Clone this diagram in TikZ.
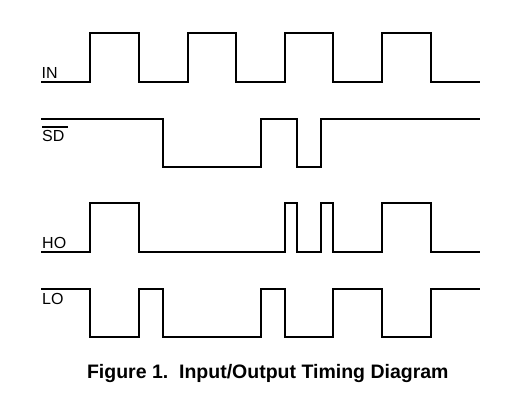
\documentclass[tikz,border=0pt]{standalone}
\usepackage{fontspec}
\setmainfont{Liberation Sans}
\begin{document}
\begin{tikzpicture}[x=1pt,y=-1pt,w/.style={line width=2pt,line join=miter},lbl/.style={inner sep=0pt,anchor=base west,font=\fontsize{16}{19}\selectfont}]
\useasboundingbox (0,0) rectangle (507,403);
% signal names
\node[lbl] (in) at (41.5,78.3) {IN};
\node[lbl] (sd) at (42,141.7) {SD};
\draw[line width=1.8pt] ([yshift=3pt]sd.north west) -- ++(26,0);
\node[lbl] (ho) at (42,248.7) {HO};
\node[lbl] (lo) at (42,304.5) {LO};
% waveforms
\draw[w] (41,81.7) foreach \t in {90,187.5,284.5,381.7} { -- (\t,81.7) -- (\t,33.3) -- (\t+48.8,33.3) -- (\t+48.8,81.7) } -- (480,81.7);
\draw[w] (41,118.7) -| (163.3,166.7) -| (261,118.7) -| (296.7,166.7) -| (320.7,118.7) -- (480,118.7);
\draw[w] (41,251.7) -| (90,203.3) -| (139,251.7) -| (284.5,203.3) -| (296.7,251.7) -| (321,203.3) -| (332.7,251.7) -| (381.7,203.3) -| (430.7,251.7) -- (480,251.7);
\draw[w] (41,288.7) -| (90,336.7) -| (139,288.7) -| (163.3,336.7) -| (261,288.7) -| (284.5,336.7) -| (333.3,288.7) -| (381.7,336.7) -| (430.7,288.7) -- (480,288.7);
% caption
\node[anchor=base,inner sep=0pt,font=\bfseries\fontsize{19.5}{23}\selectfont] (cap) at (267.8,379) {Figure 1.\ \ Input/Output\ Timing\ Diagram};
\end{tikzpicture}
\end{document}
